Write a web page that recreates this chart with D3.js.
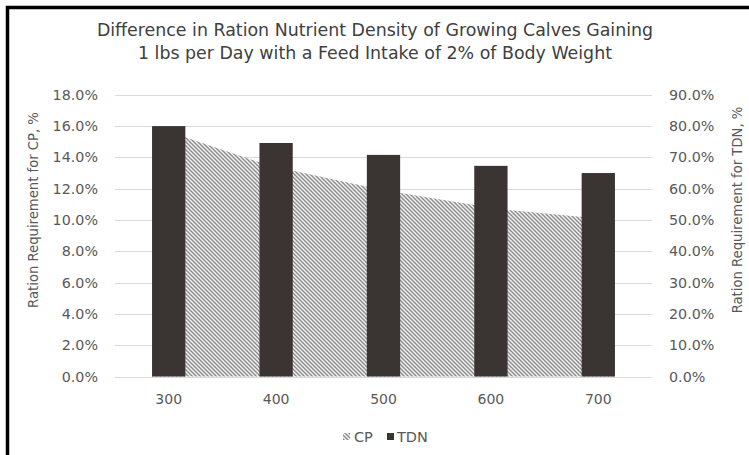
<!DOCTYPE html>
<html><head><meta charset="utf-8">
<script src="https://cdn.jsdelivr.net/npm/d3@7"></script>
<style>body{margin:0;background:#fff}svg{display:block}text{font-family:"DejaVu Sans",sans-serif;fill:#595959}</style>
</head><body><svg id="c" width="749" height="455"></svg>
<script>
const categories = ["300","400","500","600","700"];
const cpValues = [16.0, 13.5, 11.9, 10.7, 10.0];
const tdnValues = [80.0, 74.6, 70.8, 67.3, 65.0];
const leftTicks = [0,2,4,6,8,10,12,14,16,18];
const rightTicks = [0,10,20,30,40,50,60,70,80,90];
const titleLines = ["Difference in Ration Nutrient Density of Growing Calves Gaining","1 lbs per Day with a Feed Intake of 2% of Body Weight"];

const svg = d3.select("#c");
const defs = svg.append("defs");
const pat = defs.append("pattern").attr("id","hatch").attr("patternUnits","userSpaceOnUse")
  .attr("width",4).attr("height",4);
pat.append("rect").attr("width",4).attr("height",4).attr("fill","#f2f2f2");
pat.append("path").attr("d","M-1,-1 L5,5 M-1,3 L1,5 M3,-1 L5,1").attr("stroke","#8c8c8c").attr("stroke-width",1.4);

// frame
svg.append("rect").attr("x",7.5).attr("y",7.5).attr("width",760).attr("height",470)
  .attr("fill","none").attr("stroke","#000").attr("stroke-width",3.5);

const L = 115, R = 652, T = 94.8, B = 376.5;
const x = d3.scaleBand().domain(categories).range([L,R]).paddingInner(0.69).paddingOuter(0.345);
const yL = d3.scaleLinear().domain([0,18]).range([B,T]);
const yR = d3.scaleLinear().domain([0,90]).range([B,T]);
const bw = x.bandwidth();
const xa = d3.scalePoint().domain(categories).range([x(categories[0]), x(categories[categories.length-1])+bw]);

// gridlines
svg.append("g").selectAll("line").data(leftTicks).join("line")
  .attr("x1",L).attr("x2",R).attr("y1",d=>Math.round(yL(d))+0.5).attr("y2",d=>Math.round(yL(d))+0.5)
  .attr("stroke","#d9d9d9").attr("stroke-width",1);

// area
const area = d3.area().x((d,i)=>xa(categories[i])).y0(yL(0)).y1(d=>yL(d));
svg.append("path").datum(cpValues).attr("d",area).attr("fill","url(#hatch)");

// bars
svg.append("g").selectAll("rect").data(tdnValues).join("rect")
  .attr("x",(d,i)=>x(categories[i])).attr("width",bw)
  .attr("y",d=>yR(d)).attr("height",d=>yR(0)-yR(d)).attr("fill","#3a3532");

// left axis labels
svg.append("g").selectAll("text").data(leftTicks).join("text")
  .attr("x",98).attr("y",d=>yL(d)).attr("dy","0.35em").attr("text-anchor","end")
  .attr("font-size",14.3).text(d=>d.toFixed(1)+"%");
// right axis labels
svg.append("g").selectAll("text").data(rightTicks).join("text")
  .attr("x",669).attr("y",d=>yR(d)).attr("dy","0.35em").attr("text-anchor","start")
  .attr("font-size",14.3).text(d=>d.toFixed(1)+"%");
// x labels
svg.append("g").selectAll("text").data(categories).join("text")
  .attr("x",d=>x(d)+bw/2).attr("y",399).attr("dy","0.35em").attr("text-anchor","middle")
  .attr("font-size",14).text(d=>d);

// axis titles
svg.append("text").attr("transform","translate(38,210) rotate(-90)").attr("text-anchor","middle")
  .attr("font-size",13.2).text("Ration Requirement for CP, %");
svg.append("text").attr("transform","translate(737,210) rotate(-90)").attr("dy","0.35em").attr("text-anchor","middle")
  .attr("font-size",13.2).text("Ration Requirement for TDN, %");

// title
svg.append("g").selectAll("text").data(titleLines).join("text")
  .attr("x",375).attr("y",(d,i)=>30+i*23).attr("dy","0.35em").attr("text-anchor","middle")
  .attr("font-size",17.4).style("fill","#404040").text(d=>d);

// legend
const lg = svg.append("g");
lg.append("rect").attr("x",343).attr("y",433).attr("width",7).attr("height",7).attr("fill","url(#hatch)");
lg.append("text").attr("x",354).attr("y",437).attr("dy","0.35em").attr("font-size",14.5).text("CP");
lg.append("rect").attr("x",387).attr("y",433).attr("width",7).attr("height",7).attr("fill","#3a3532");
lg.append("text").attr("x",397).attr("y",437).attr("dy","0.35em").attr("font-size",14.5).text("TDN");
</script></body></html>
